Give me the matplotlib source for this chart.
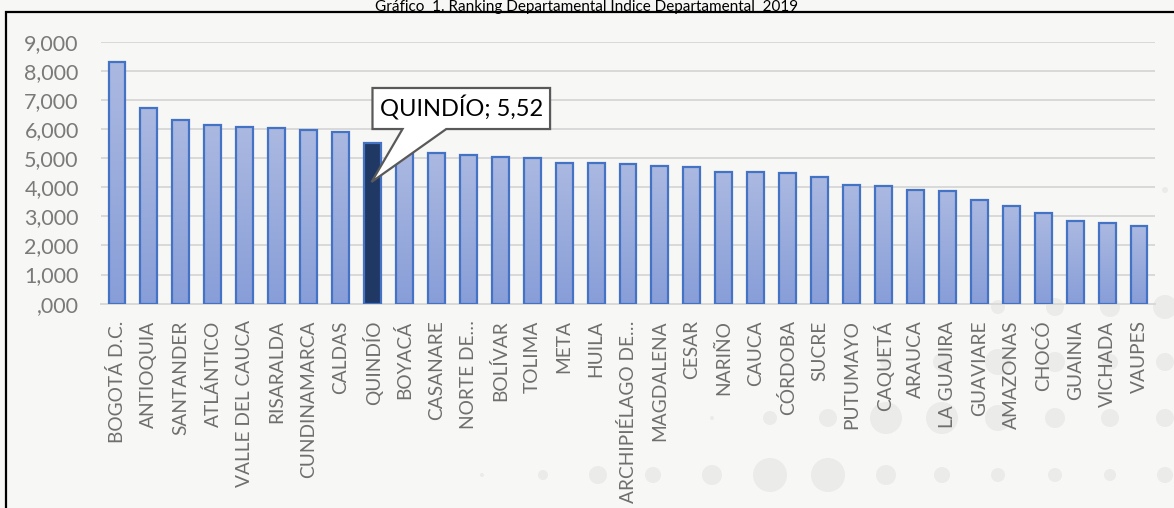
import numpy as np
import matplotlib
matplotlib.use("Agg")
import matplotlib.pyplot as plt
from matplotlib.patches import Rectangle, Ellipse, Polygon
from matplotlib.colors import LinearSegmentedColormap
from matplotlib.ticker import FixedLocator, FixedFormatter

plt.rcParams['font.family'] = ['Lato', 'DejaVu Sans']

departamentos = ["BOGOTÁ D.C.", "ANTIOQUIA", "SANTANDER", "ATLÁNTICO", "VALLE DEL CAUCA",
                 "RISARALDA", "CUNDINAMARCA", "CALDAS", "QUINDÍO", "BOYACÁ", "CASANARE",
                 "NORTE DE…", "BOLÍVAR", "TOLIMA", "META", "HUILA", "ARCHIPIÉLAGO DE…",
                 "MAGDALENA", "CESAR", "NARIÑO", "CAUCA", "CÓRDOBA", "SUCRE", "PUTUMAYO",
                 "CAQUETÁ", "ARAUCA", "LA GUAJIRA", "GUAVIARE", "AMAZONAS", "CHOCÓ",
                 "GUAINIA", "VICHADA", "VAUPES"]
indice = [8.29, 6.71, 6.30, 6.13, 6.07, 6.04, 5.97, 5.90, 5.52, 5.22, 5.18,
          5.12, 5.05, 5.00, 4.85, 4.85, 4.79, 4.73, 4.69, 4.54, 4.52, 4.50,
          4.34, 4.07, 4.03, 3.91, 3.86, 3.56, 3.36, 3.12, 2.83, 2.78, 2.67]
y_ticks = [0, 1, 2, 3, 4, 5, 6, 7, 8, 9]
y_tick_labels = [",000", "1,000", "2,000", "3,000", "4,000", "5,000", "6,000", "7,000", "8,000", "9,000"]
destacado = "QUINDÍO"
titulo = "Gráfico  1. Ranking Departamental Índice Departamental  2019"

W, H = 1174, 508
bg = "#f7f7f5"
fig = plt.figure(figsize=(W / 100, H / 100), dpi=100, facecolor=bg)

# decorative circles in the background (pixel coords from top-left)
circles = [
    (543, 475, 5), (598, 475, 9), (653, 475, 8), (712, 475, 10), (770, 475, 17), (828, 475, 17),
    (886, 475, 10), (942, 475, 8), (998, 475, 7), (1055, 475, 7), (1110, 475, 6), (1165, 475, 8),
    (482, 475, 2),
    (770, 418, 7), (828, 418, 9), (886, 418, 16), (942, 418, 16), (998, 418, 13),
    (1055, 418, 10), (1110, 418, 9), (1165, 418, 9), (712, 418, 2),
    (886, 362, 6), (942, 362, 9), (998, 362, 13), (1055, 362, 10), (1110, 362, 8), (1165, 362, 9),
    (998, 307, 7), (1055, 307, 9), (1110, 307, 10), (1165, 307, 12), (1165, 190, 3),
]
for cx, cy, r in circles:
    fig.patches.append(Ellipse((cx / W, 1 - cy / H), 2 * r / W, 2 * r / H, transform=fig.transFigure,
                               facecolor="#ebebe9", edgecolor="none", zorder=-5))

# frame (left and top visible)
fig.patches.append(Rectangle((6 / W, -0.05), 1.1, 1 - 12.5 / H + 0.05, transform=fig.transFigure,
                             facecolor="none", edgecolor="black", linewidth=1.6, zorder=-4))

ax = fig.add_axes([101 / W, (H - 303.7) / H, (1155 - 101) / W, (303.7 - 41.7) / H])
ax.set_zorder(2)
ax.set_facecolor("none")
x = np.arange(len(departamentos))

ax.yaxis.set_major_locator(FixedLocator(y_ticks))
ax.yaxis.set_major_formatter(FixedFormatter(y_tick_labels))
ax.grid(axis='y', color="#d9d9d9", linewidth=1.4, zorder=0)
ax.set_axisbelow(True)
for s in ["top", "right", "left"]:
    ax.spines[s].set_visible(False)
ax.spines["bottom"].set_color("#d9d9d9")
ax.spines["bottom"].set_linewidth(1.4)
ax.tick_params(axis='y', length=0, pad=16, labelsize=15.5, labelcolor="#7a7a7a")
ax.tick_params(axis='x', length=0, pad=12, labelsize=13.8, labelcolor="#6f6f6f")

bars = ax.bar(x, indice, width=0.53, color="none", edgecolor="#4472c4", linewidth=1.6, zorder=3)

grad_cmap = LinearSegmentedColormap.from_list("g", ["#889ed8", "#abb9e1"])
grad = np.linspace(0, 1, 256).reshape(-1, 1)
for b, d in zip(bars, departamentos):
    x0 = b.get_x()
    w = b.get_width()
    h = b.get_height()
    if d == destacado:
        ax.add_patch(Rectangle((x0, 0), w, h, facecolor="#1f3864", edgecolor="none", zorder=2))
    else:
        im = ax.imshow(grad, extent=[x0, x0 + w, 0, h], origin="lower", aspect="auto",
                       cmap=grad_cmap, zorder=2, interpolation="bilinear")
        im.set_clip_path(b)
ax.set_xlim(-0.5, len(departamentos) - 0.5)
ax.set_ylim(0, 9)

ax.set_xticks(x)
ax.set_xticklabels(departamentos, rotation=90, ha="center", va="top")

# callout for highlighted department
i = departamentos.index(destacado)
v = indice[i]
bx0, bx1, by0, by1 = i, i + 5.56, 6.0, 7.41
pointer = [(bx0, by0), (bx0, by1), (bx1, by1), (bx1, by0), (i + 2.31, by0), (i - 0.03, 4.18), (i + 0.94, by0)]
ax.add_patch(Polygon(pointer, closed=True, facecolor="white", edgecolor="#595959",
                     linewidth=1.6, zorder=5, clip_on=False))
ax.text((bx0 + bx1) / 2, (by0 + by1) / 2 + 0.02, f"{destacado}; {v:.2f}".replace(".", ","),
        ha="center", va="center", fontsize=17, color="black", zorder=6)

fig.text(0.5, 1 - 10.5 / H, titulo, ha="center", va="baseline", fontsize=11, color="black")

fig.savefig("out.png", dpi=100, facecolor=bg)
